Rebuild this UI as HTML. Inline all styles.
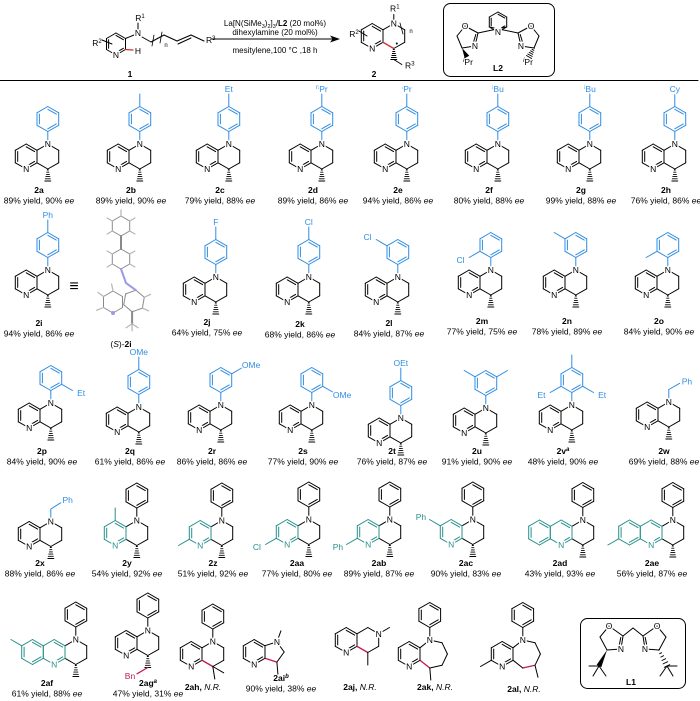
<!DOCTYPE html><html><head><meta charset="utf-8"><style>
html,body{margin:0;padding:0;background:#fff}
svg{display:block;font-family:"Liberation Sans",Arial,sans-serif}
.h{paint-order:stroke;stroke:#fff;stroke-width:3px;stroke-linejoin:round}
</style></head><body>
<svg id="s" width="700" height="701" viewBox="0 0 700 701" xmlns="http://www.w3.org/2000/svg">
<rect width="700" height="701" fill="#fff"/>
<g id="g"></g>
</svg>
<script>
const S=12.5,H=S*Math.sqrt(3)/2;
const BL='#2f8de4',TE='#27908c',MG='#c2185b',RD='#d32f2f';
let out='',tout='';
const f=n=>(+n).toFixed(1);
function L(x1,y1,x2,y2,c='#000',w=1){out+=`<line x1="${f(x1)}" y1="${f(y1)}" x2="${f(x2)}" y2="${f(y2)}" stroke="${c}" stroke-width="${w}" stroke-linecap="round"/>`;}
function T(x,y,s,o={}){tout+=`<text x="${f(x)}" y="${f(y)}" font-size="${o.fs||8.5}" fill="${o.c||'#000'}" text-anchor="${o.a||'middle'}"${o.b?' font-weight="bold"':''}${o.i?' font-style="italic"':''}${o.h?' class="h"':''}>${s}</text>`;}
function V(cx,cy,s,st=-90,n=6){let a=[];for(let i=0;i<n;i++){let t=(st+360/n*i)*Math.PI/180;a.push([cx+s*Math.cos(t),cy+s*Math.sin(t)]);}return a;}
function ring(cx,cy,s,dbl,c='#000',st=-90,n=6){let v=V(cx,cy,s,st,n);for(let i=0;i<n;i++){let a=v[i],b=v[(i+1)%n];L(a[0],a[1],b[0],b[1],c);}
 dbl.forEach(i=>{let a=v[i],b=v[(i+1)%n],k=0.22;L(a[0]+(cx-a[0])*k,a[1]+(cy-a[1])*k,b[0]+(cx-b[0])*k,b[1]+(cy-b[1])*k,c);});v.c=[cx,cy];return v;}
function hash(x1,y1,x2,y2,c='#000'){let dx=x2-x1,dy=y2-y1,l=Math.hypot(dx,dy),px=-dy/l,py=dx/l;for(let i=0;i<6;i++){let t=i/5,x=x1+dx*t,y=y1+dy*t,w=0.6+2.4*t;L(x-px*w,y-py*w,x+px*w,y+py*w,c,0.9);}}
function wedge(x1,y1,x2,y2,c='#000'){let dx=x2-x1,dy=y2-y1,l=Math.hypot(dx,dy),px=-dy/l*2.6,py=dx/l*2.6;out+=`<polygon points="${f(x1)},${f(y1)} ${f(x2+px)},${f(y2+py)} ${f(x2-px)},${f(y2-py)}" fill="${c}"/>`;}
function subs(v,c,list){let [cx,cy]=v.c;for(const [i,lab] of list){let p=v[i],d=[(p[0]-cx)/S,(p[1]-cy)/S];L(p[0],p[1],p[0]+d[0]*S,p[1]+d[1]*S,c);if(lab){let tx=p[0]+d[0]*(S+6),ty=p[1]+d[1]*(S+5)+3;if(Math.abs(d[0])>0.5)tx+=d[0]*4;T(tx,ty,lab,{c,h:1});}}}
function aryl(N,c,list=[]){let x=N[0],y=N[1];L(x,y,x,y-S,c);let v=ring(x,y-2*S,S,[0,2,4],c);subs(v,c,list);return v;}
function pyr(fx,cy,pc='#000',tri=false){let lv=ring(fx-H,cy,S,tri?[0,2]:[0,2,4],pc);let bv=null;if(tri)bv=ring(fx-3*H,cy,S,[0,2,4],pc);T(lv[3][0],lv[3][1]+3,'N',{c:pc,h:1});lv.c=[fx-H,cy];if(bv)bv.c=[fx-3*H,cy];return {lv,bv};}
function core(fx,cy,o={}){let rv=ring(fx+H,cy,S,[],'#000');let p=pyr(fx,cy,o.pc||'#000',o.tri);T(rv[0][0],rv[0][1]+3,'N',{h:1});if(!o.noMe)hash(rv[3][0],rv[3][1]+1,rv[3][0],rv[3][1]+12);return {rv,lv:p.lv,bv:p.bv,N:rv[0]};}
function lab(x,y,name,yl){T(x,y,name,{b:1});if(yl)T(x,y+10.5,yl);}
function Y(a,b){return `${a}% yield, ${b}% <tspan font-style="italic">ee</tspan>`;}
const sup=(t,it)=>`<tspan font-size="6" dy="-3"${it?' font-style="italic"':''}>${t}</tspan><tspan dy="3">`;
const nPr=sup('n',1)+'Pr</tspan>',iPr=sup('i',1)+'Pr</tspan>',tBu=sup('t',1)+'Bu</tspan>';

/* ===== header ===== */
(function(){
 let v=ring(116,44,11,[0,2,4]);T(v[3][0],v[3][1]+3,'N',{h:1});
 L(v[2][0],v[2][1],133,50,RD,1.3);T(138,54,'H');
 L(v[1][0],v[1][1],134,35);T(138,36,'N',{h:1});L(138,30,138,23);
 T(140,21,'R<tspan font-size="6" dy="-3">1</tspan>');
 T(97,46,'R<tspan font-size="6" dy="-3">2</tspan>');L(102,40,112,44);
 let pts=[[142,37],[151,42],[164,35],[177,41],[191,35],[204,41]];
 for(let i=0;i<pts.length-1;i++)L(pts[i][0],pts[i][1],pts[i+1][0],pts[i+1][1]);
 L(178,44,191,38);
 L(154,35,152,46,'#000',0.8);L(162,32,160,43,'#000',0.8);T(166,47,'n',{fs:6});
 T(206,43,'R<tspan font-size="6" dy="-3">3</tspan>',{a:'start'});
 T(130,77,'1',{b:1});
 L(212,39,333,39);out+='<polygon points="340,39 330,35.5 332.5,39 330,42.5" fill="#000"/>';
 T(275,26,'La[N(SiMe<tspan font-size="5.5" dy="2">3</tspan><tspan dy="-2">)</tspan><tspan font-size="5.5" dy="2">2</tspan><tspan dy="-2">]</tspan><tspan font-size="5.5" dy="2">3</tspan><tspan dy="-2">/</tspan><tspan font-weight="bold">L2</tspan> (20 mol%)',{fs:8});
 T(275,35,'dihexylamine (20 mol%)',{fs:8});
 T(275,53,'mesitylene,100 °C ,18 h',{fs:8});
 let fx=383,cy=36;let rv=ring(fx+H,cy,S,[]);let lv=ring(fx-H,cy,S,[0,2,4]);
 L(rv[4][0],rv[4][1],rv[3][0],rv[3][1],RD,1.3);
 T(rv[0][0],rv[0][1]+3,'N',{h:1});T(lv[3][0],lv[3][1]+3,'N',{h:1});
 L(rv[0][0],rv[0][1],rv[0][0],rv[0][1]-9);T(rv[0][0]+1,rv[0][1]-12,'R<tspan font-size="6" dy="-3">1</tspan>');
 T(354,37,'R<tspan font-size="6" dy="-3">2</tspan>');L(359,31,367,36);
 L(400,23,403,34,'#000',0.8);T(411,33,'n',{fs:6});
 out+=`<circle cx="${f(rv[3][0]+3)}" cy="${f(rv[3][1]-5)}" r="1" fill="#000"/>`;
 hash(rv[3][0],rv[3][1]+1,rv[3][0],rv[3][1]+11);L(rv[3][0],rv[3][1]+11,rv[3][0]+8,rv[3][1]+16);
 T(rv[3][0]+16,rv[3][1]+20,'R<tspan font-size="6" dy="-3">3</tspan>');
 T(374,77,'2',{b:1});
 out+='<rect x="443.5" y="3.5" width="111" height="73" rx="7" fill="none" stroke="#000" stroke-width="1"/>';
 let p=ring(498,22,10,[0,2,4]);T(p[3][0],p[3][1]+3,'N',{h:1});
 function ox(s){let X=x=>498+s*(498-x);let C2=[X(478),33],O=[X(465),26],C5=[X(457),36],C4=[X(462),48],N=[X(475),46];
  L(p[s>0?4:2][0],p[s>0?4:2][1],C2[0],C2[1]);L(C2[0],C2[1],O[0],O[1]);L(O[0],O[1],C5[0],C5[1]);L(C5[0],C5[1],C4[0],C4[1]);L(C4[0],C4[1],N[0],N[1]);L(C2[0],C2[1],N[0],N[1]);L(C2[0]+s*2.2,C2[1]+1.5,N[0]+s*2.2,N[1]-1.5);
  T(O[0],O[1]+3,'O',{h:1});T(N[0],N[1]+3,'N',{h:1});
  if(s>0)hash(C4[0],C4[1],C4[0]-5,C4[1]+9);else wedge(C4[0],C4[1],C4[0]+5,C4[1]+9);
  T(C4[0]-s*6,C4[1]+17,iPr);}
 ox(1);ox(-1);T(498,71,'L2',{b:1});
 L(0,80.5,698,80.5,'#000',1);
})();

/* ===== row 1 ===== */
[[37,[],'2a',89,90],[129,[[0,'']],'2b',89,90],[218,[[0,'Et']],'2c',79,88],[311,[[0,nPr]],'2d',89,86],
 [396,[[0,iPr]],'2e',94,86],[487,[[0,tBu]],'2f',80,88],[579,[[0,tBu]],'2g',99,88],[664,[[0,'Cy']],'2h',76,86]].forEach(([fx,sb,n,a,b])=>{
 let c=core(fx,156.5);aryl(c.N,BL,sb);lab(fx+2,193,n,Y(a,b));});

/* ===== row 2 ===== */
[[37,282.5,[[0,'Ph']],'2i',94,86,39,326],[205,289.5,[[0,'F']],'2j',64,75,207,325],[298,289.5,[[0,'Cl']],'2k',68,86,300,327],
 [387,289.5,[[5,'Cl']],'2l',84,87,389,326],[480,282.5,[[4,'Cl']],'2m',77,75,482,324],[565,282.5,[[5,'']],'2n',78,89,567,324],
 [657,282.5,[[4,'']],'2o',84,90,659,324]].forEach(([fx,cy,sb,n,a,b,lx,ly])=>{let c=core(fx,cy);aryl(c.N,BL,sb);lab(lx,ly,n,Y(a,b));});
T(74,291,'≡',{fs:16});
(function(){const G='#8a8a8a',Hc='#b5b5b5',Nc='#9a9ae8';
 let a=ring(121,226,10,[],G);a.forEach(p=>{let d=[(p[0]-121)/10,(p[1]-226)/10];if(Math.abs(d[1])<0.9||d[1]<0)L(p[0],p[1],p[0]+d[0]*6,p[1]+d[1]*6,Hc,1.2);});
 let b=ring(121,259,10,[],G);L(121,236,121,249,G,2);
 [b[1],b[2],b[4],b[5]].forEach(p=>{let d=[(p[0]-121)/10,(p[1]-259)/10];L(p[0],p[1],p[0]+d[0]*6,p[1]+d[1]*6,Hc,1.2);});
 L(121,269,126,283,Nc,2);
 let r=ring(134,301,11,[],G,-80);let l=ring(113,302,11,[],G,-90);
 L(126,283,r[0][0],r[0][1],Nc,2);
 [[l[4],-1,0.4],[l[5],-0.8,-0.6],[l[0],-0.2,-1],[r[1],0.9,-0.4],[r[2],0.9,0.4]].forEach(([p,dx,dy])=>L(p[0],p[1],p[0]+dx*7,p[1]+dy*7,Hc,1.2));
 out+=`<circle cx="${f(l[3][0])}" cy="${f(l[3][1])}" r="2" fill="${Nc}"/>`;
 L(r[3][0],r[3][1],r[3][0],r[3][1]+12,G,2);
 [[-6,4],[6,4],[0,7]].forEach(([dx,dy])=>L(r[3][0],r[3][1]+12,r[3][0]+dx,r[3][1]+12+dy,Hc,1.2));
 T(121,347,'(<tspan font-style="italic">S</tspan>)-<tspan font-weight="bold">2i</tspan>');
})();

/* ===== row 3 ===== */
[[40,415.5,[[2,'Et']],'2p',84,90],[128,419.5,[[0,'OMe']],'2q',61,86],[210,417.5,[[1,'OMe']],'2r',86,86],[301,417.5,[[2,'OMe']],'2s',77,90],
 [390,430.5,[[0,'OEt']],'2t',76,87],[475,420.5,[[1,''],[5,'']],'2u',91,90],[561,417.5,[[0,''],[2,'Et'],[4,'Et']],'2v'+sup('a',1)+'</tspan>',48,90]].forEach(([fx,cy,sb,n,a,b])=>{
 let c=core(fx,cy);aryl(c.N,BL,sb);lab(fx+2,454,n,Y(a,b));});
(function(){let c=core(658,414.5);let [x,y]=c.N;L(x,y,x,y-S,BL);L(x,y-S,x+H,y-1.5*S,BL);T(x+H+2,y-1.5*S+1,'Ph',{c:BL,h:1,a:'start'});lab(664,454,'2w',Y(69,88));})();

/* ===== row 4 ===== */
(function(){let c=core(40,534);let [x,y]=c.N;L(x,y,x,y-S,BL);L(x,y-S,x+H-1,y-1.5*S,BL);T(x+H+6,y-1.5*S,'Ph',{c:BL,h:1});lab(40,566,'2x',Y(88,86));})();
function r4(fx,cy,f2,n,a,b,lx,tri){let c=core(fx,cy,{pc:TE,tri});aryl(c.N,'#000');f2(c);lab(lx,566,n,Y(a,b));}
r4(126,533,c=>subs(c.lv,TE,[[0,'']]),'2y',54,92,127);
r4(211,533,c=>subs(c.lv,TE,[[4,'']]),'2z',51,92,213);
r4(298,532,c=>subs(c.lv,TE,[[4,'Cl']]),'2aa',77,80,297);
r4(379,532,c=>subs(c.lv,TE,[[4,'Ph']]),'2ab',89,87,379);
r4(462,532,c=>subs(c.lv,TE,[[5,'Ph']]),'2ac',90,83,466);
r4(572,532.5,c=>{},'2ad',43,93,560,true);
r4(662,532.5,c=>subs(c.bv,TE,[[4,'']]),'2ae',56,87,652,true);

/* ===== row 5 ===== */
(function(){let c=core(65,652,{pc:TE,tri:true});aryl(c.N,'#000');subs(c.bv,TE,[[5,'']]);lab(47,686,'2af',Y(61,88));})();
(function(){let c=core(137,643,{noMe:true});aryl(c.N,'#000');let p=c.rv[3];hash(p[0],p[1]+1,p[0],p[1]+12);L(p[0],p[1]+12,p[0]-H,p[1]+12+S/2,MG,1.2);T(p[0]-H-7,p[1]+12+S/2+5,'Bn',{c:MG,h:1});lab(148,686,'2ag'+sup('a',1)+'</tspan>',Y(47,31));})();
(function(){let c=core(202,654,{noMe:true});aryl(c.N,'#000');let p=c.rv[3],q=c.rv[4];L(q[0],q[1],p[0],p[1],MG,1.3);L(p[0],p[1],p[0]+H,p[1]+S/2);L(p[0],p[1],p[0]+2,p[1]+S);T(203,690,'2ah, <tspan font-weight="normal" font-style="italic">N.R.</tspan>',{b:1});})();
(function(){let fx=265,cy=652;pyr(fx,cy);let R=S*0.8507,cx=fx+0.688*S;let v=V(cx,cy,R,216,5);for(let i=0;i<5;i++){let a=v[i],b=v[(i+1)%5];L(a[0],a[1],b[0],b[1],i==3?MG:'#000',i==3?1.3:1);}
 T(v[1][0],v[1][1]+3,'N',{h:1});L(v[1][0],v[1][1],v[1][0]+4,v[1][1]-11);L(v[3][0],v[3][1],v[3][0]+1,v[3][1]+12);lab(281,681,'2ai'+sup('b',1)+'</tspan>',Y(90,38));})();
(function(){let fx=357,cy=640;let rv=ring(fx+H,cy,S,[]);pyr(fx,cy);L(rv[4][0],rv[4][1],rv[3][0],rv[3][1],MG,1.3);T(rv[1][0],rv[1][1]+3,'N',{h:1});L(rv[1][0],rv[1][1],rv[1][0]+H,rv[1][1]-S/2);L(rv[3][0],rv[3][1],rv[3][0],rv[3][1]+S);T(360,690,'2aj, <tspan font-weight="normal" font-style="italic">N.R.</tspan>',{b:1});})();
function seven(fx,cy){let R=S*1.152,cx=fx+1.038*S;return V(cx,cy,R,205.71,7);}
(function(){let fx=420,cy=654;pyr(fx,cy);let v=seven(fx,cy);for(let i=0;i<7;i++){let a=v[i],b=v[(i+1)%7];L(a[0],a[1],b[0],b[1],i==5?MG:'#000',i==5?1.3:1);}
 T(v[1][0],v[1][1]+3,'N',{h:1});aryl(v[1],'#000');L(v[5][0],v[5][1],v[5][0]+1,v[5][1]+12);T(435,690,'2ak, <tspan font-weight="normal" font-style="italic">N.R.</tspan>',{b:1});})();
(function(){let fx=513,cy=654;let p=pyr(fx,cy);subs(p.lv,'#000',[[4,'']]);let v=seven(fx,cy);for(let i=0;i<7;i++){let a=v[i],b=v[(i+1)%7];L(a[0],a[1],b[0],b[1],i==4?MG:'#000',i==4?1.3:1);}
 T(v[1][0],v[1][1]+3,'N',{h:1});aryl(v[1],'#000');L(v[4][0],v[4][1],v[4][0]+3,v[4][1]+12);T(524,692,'2al, <tspan font-weight="normal" font-style="italic">N.R.</tspan>',{b:1});})();
(function(){out+='<rect x="580.5" y="618.5" width="105" height="70" rx="7" fill="none" stroke="#000" stroke-width="1"/>';
 function ox(s){let X=x=>633+s*(633-x);let C2=[X(623),636],O=[X(609),626],C5=[X(600),637],C4=[X(607),650],N=[X(621),649];
  L(C2[0],C2[1],633,628);L(C2[0],C2[1],O[0],O[1]);L(O[0],O[1],C5[0],C5[1]);L(C5[0],C5[1],C4[0],C4[1]);L(C4[0],C4[1],N[0],N[1]);L(C2[0],C2[1],N[0],N[1]);L(C2[0]+s*2.2,C2[1]+1.5,N[0]+s*2.2,N[1]-1.5);
  T(O[0],O[1]+3,'O',{h:1});T(N[0],N[1]+3,'N',{h:1});
  let Q=[X(599),666];if(s>0)hash(C4[0],C4[1],Q[0],Q[1]);else wedge(C4[0],C4[1],Q[0],Q[1]);
  L(Q[0],Q[1],X(589),666);L(Q[0],Q[1],X(593),676);L(Q[0],Q[1],X(606),676);}
 ox(1);ox(-1);T(631,685,'L1',{b:1});})();

document.getElementById('g').innerHTML=out+tout;
</script>
</body></html>
